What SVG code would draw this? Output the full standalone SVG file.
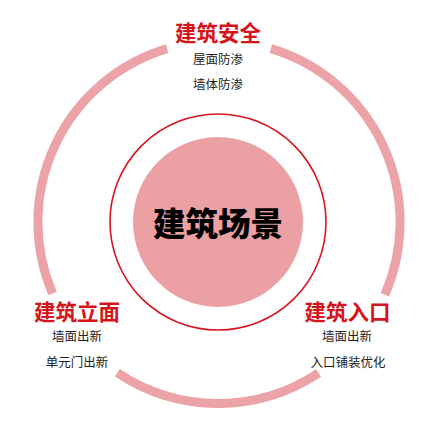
<svg xmlns="http://www.w3.org/2000/svg" width="435" height="435" viewBox="0 0 435 435">
<style>
.ring{fill:none;stroke:#eba3a7;stroke-width:9;stroke-linecap:butt}
.h{font-family:"Noto Sans CJK SC","Noto Sans",sans-serif;font-weight:bold;font-size:21.5px;fill:#d6121a;text-anchor:middle}
.s{font-family:"Noto Sans CJK SC","Noto Sans",sans-serif;font-size:12.5px;fill:#222;text-anchor:middle}
.c{font-family:"Noto Sans CJK SC","Noto Sans",sans-serif;font-weight:900;font-size:32.5px;fill:#000;text-anchor:middle}
</style>
<rect width="435" height="435" fill="#fff"/>
<g id="connectors">
<path class="ring" d="M 270.9 48.6 A 181 181 0 0 1 384.8 294.8"/>
<path class="ring" d="M 318.6 373.1 A 181 181 0 0 1 117.4 372.8"/>
<path class="ring" d="M 52.6 293.4 A 181 181 0 0 1 167.1 48.6"/>
</g>
<g id="center">
<circle cx="218" cy="222" r="108" fill="none" stroke="#d7141e" stroke-width="1.6"/>
<circle cx="218" cy="222" r="85" fill="#eba0a4"/>
<text class="c" x="218" y="236">建筑场景</text>
</g>
<g id="safety">
<text class="h" x="218" y="41">建筑安全</text>
<text class="s" x="218" y="64">屋面防渗</text>
<text class="s" x="218" y="89">墙体防渗</text>
</g>
<g id="facade">
<text class="h" x="77" y="320">建筑立面</text>
<text class="s" x="77" y="341">墙面出新</text>
<text class="s" x="77" y="367">单元门出新</text>
</g>
<g id="entrance">
<text class="h" x="347.5" y="320">建筑入口</text>
<text class="s" x="347" y="341">墙面出新</text>
<text class="s" x="348" y="367">入口铺装优化</text>
</g>
</svg>
